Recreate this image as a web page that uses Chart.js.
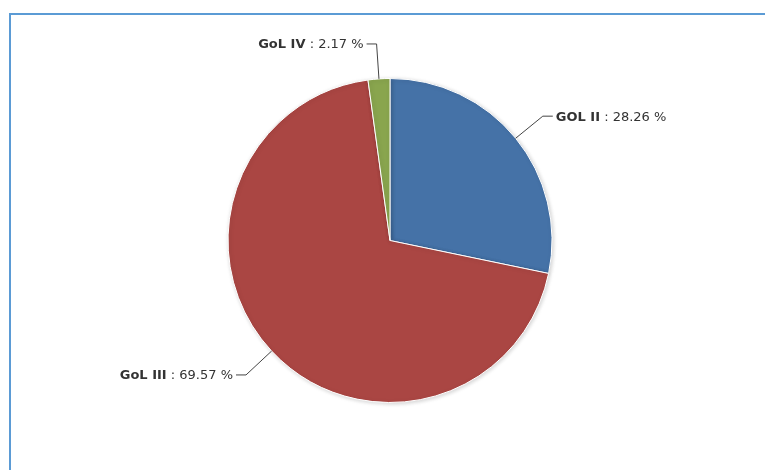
<!DOCTYPE html>
<html lang="en">
<head>
    <meta charset="UTF-8">
    <title>GOL pie</title>
    <script src="https://cdn.jsdelivr.net/npm/chart.js"></script>
    <style>
        html, body { margin: 0; padding: 0; background: #fff; overflow: hidden; }
        #wrap { position: relative; width: 765px; height: 470px; }
        #frame {
            position: absolute; left: 9px; top: 13px; right: -10px; bottom: -10px;
            border-left: 2px solid #5b9bd5; border-top: 2px solid #5b9bd5;
        }
        canvas { position: absolute; left: 0; top: 0; }
    </style>
</head>
<body>
<div id="wrap">
    <div id="frame"></div>
    <canvas id="pie" width="765" height="470"></canvas>
</div>

<script>
    // slice data, clockwise from 12 o'clock
    const names = ['GOL II', 'GoL III', 'GoL IV'];
    const shares = [28.26, 69.57, 2.17];
    const colors = ['#4572A7', '#AA4643', '#89A54E'];

    // soft shadow under the slices
    const sliceShadow = {
        id: 'sliceShadow',
        beforeDatasetDraw(chart) {
            const ctx = chart.ctx;
            ctx.save();
            ctx.shadowColor = 'rgba(0,0,0,0.18)';
            ctx.shadowBlur = 4;
            ctx.shadowOffsetX = 1;
            ctx.shadowOffsetY = 1;
        },
        afterDatasetDraw(chart) {
            chart.ctx.restore();
        }
    };

    // outside labels with connector lines
    const pieLabels = {
        id: 'pieLabels',
        afterDraw(chart) {
            const ctx = chart.ctx;
            const meta = chart.getDatasetMeta(0);
            meta.data.forEach((arc, i) => {
                const p = arc.getProps(['x', 'y', 'outerRadius', 'startAngle', 'endAngle'], true);
                const mid = (p.startAngle + p.endAngle) / 2;
                const cos = Math.cos(mid), sin = Math.sin(mid);
                const x0 = p.x + cos * p.outerRadius, y0 = p.y + sin * p.outerRadius;
                const x1 = p.x + cos * (p.outerRadius + 35), y1 = p.y + sin * (p.outerRadius + 35);
                const right = cos >= 0;
                const x2 = x1 + (right ? 10 : -10);

                ctx.save();
                ctx.strokeStyle = '#444';
                ctx.lineWidth = 1;
                ctx.beginPath();
                ctx.moveTo(x0, y0);
                ctx.lineTo(x1, y1);
                ctx.lineTo(x2, y1);
                ctx.stroke();

                const bold = 'bold 13px "DejaVu Sans", Verdana, sans-serif';
                const normal = '13px "DejaVu Sans", Verdana, sans-serif';
                const nameTxt = names[i];
                const valTxt = ' : ' + shares[i].toFixed(2) + ' %';
                ctx.font = bold;
                const wName = ctx.measureText(nameTxt).width;
                ctx.font = normal;
                const wVal = ctx.measureText(valTxt).width;
                let tx = right ? x2 + 3 : x2 - 3 - wName - wVal;
                ctx.fillStyle = '#333';
                ctx.textBaseline = 'middle';
                ctx.textAlign = 'left';
                ctx.font = bold;
                ctx.fillText(nameTxt, tx, y1 + 1);
                ctx.font = normal;
                ctx.fillText(valTxt, tx + wName, y1 + 1);
                ctx.restore();
            });
        }
    };

    new Chart(document.getElementById('pie'), {
        type: 'pie',
        data: {
            labels: names,
            datasets: [{
                data: shares,
                backgroundColor: colors,
                borderColor: '#ffffff',
                borderWidth: 1,
                hoverOffset: 0
            }]
        },
        options: {
            responsive: false,
            animation: false,
            layout: { padding: { top: 78, bottom: 67, left: 20, right: 5 } },
            plugins: {
                legend: { display: false },
                tooltip: { enabled: false }
            }
        },
        plugins: [sliceShadow, pieLabels]
    });
</script>
</body>
</html>
